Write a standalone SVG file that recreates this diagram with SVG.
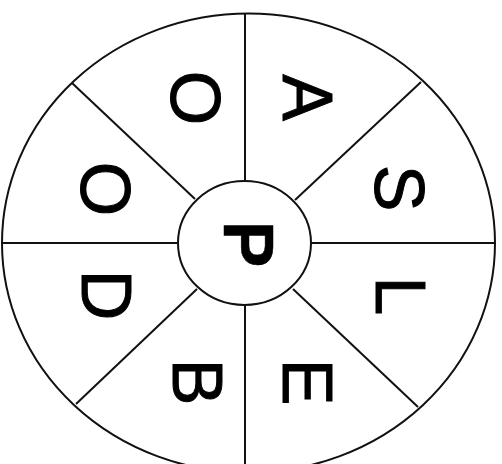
<svg xmlns="http://www.w3.org/2000/svg" width="502" height="464" viewBox="0 0 502 464">
<style>
.ln{stroke:#111;stroke-width:2;fill:none}
.lt{font-family:"Liberation Sans",Arial,sans-serif;font-size:70px;fill:#000;stroke:#000;stroke-width:1;text-anchor:middle}
.bd{font-weight:bold;stroke-width:0.5}
</style>
<rect width="502" height="464" fill="#fff"/>
<g id="wheel">
<ellipse class="ln" cx="248.5" cy="243" rx="246.5" ry="229.5"/>
</g>
<g id="connectors">
<line class="ln" x1="245" y1="13" x2="245" y2="181"/>
<line class="ln" x1="245" y1="305" x2="245" y2="470"/>
<line class="ln" x1="2" y1="243" x2="178" y2="243"/>
<line class="ln" x1="311" y1="243" x2="495" y2="243"/>
<line class="ln" x1="72" y1="83" x2="195" y2="199"/>
<line class="ln" x1="421" y1="82" x2="295" y2="200"/>
<line class="ln" x1="418" y1="407" x2="293" y2="289"/>
<line class="ln" x1="76" y1="404" x2="197" y2="289"/>
</g>
<g id="center">
<ellipse class="ln" cx="244.5" cy="243" rx="66.5" ry="62"/>
<text class="lt bd" transform="translate(224,244) rotate(90)">P</text>
</g>
<g id="seg-A"><text class="lt" transform="translate(283,97.5) rotate(90)">A</text></g>
<g id="seg-S"><text class="lt" transform="translate(375,188) rotate(90)">S</text></g>
<g id="seg-L"><text class="lt" transform="translate(376,296) rotate(90)">L</text></g>
<g id="seg-E"><text class="lt" transform="translate(283,382) rotate(90)">E</text></g>
<g id="seg-B"><text class="lt" transform="translate(173,382) rotate(90)">B</text></g>
<g id="seg-D"><text class="lt" transform="translate(82,295) rotate(90)">D</text></g>
<g id="seg-O2"><text class="lt" transform="translate(81,189) rotate(90)">O</text></g>
<g id="seg-O1"><text class="lt" transform="translate(171,98) rotate(90)">O</text></g>
</svg>
